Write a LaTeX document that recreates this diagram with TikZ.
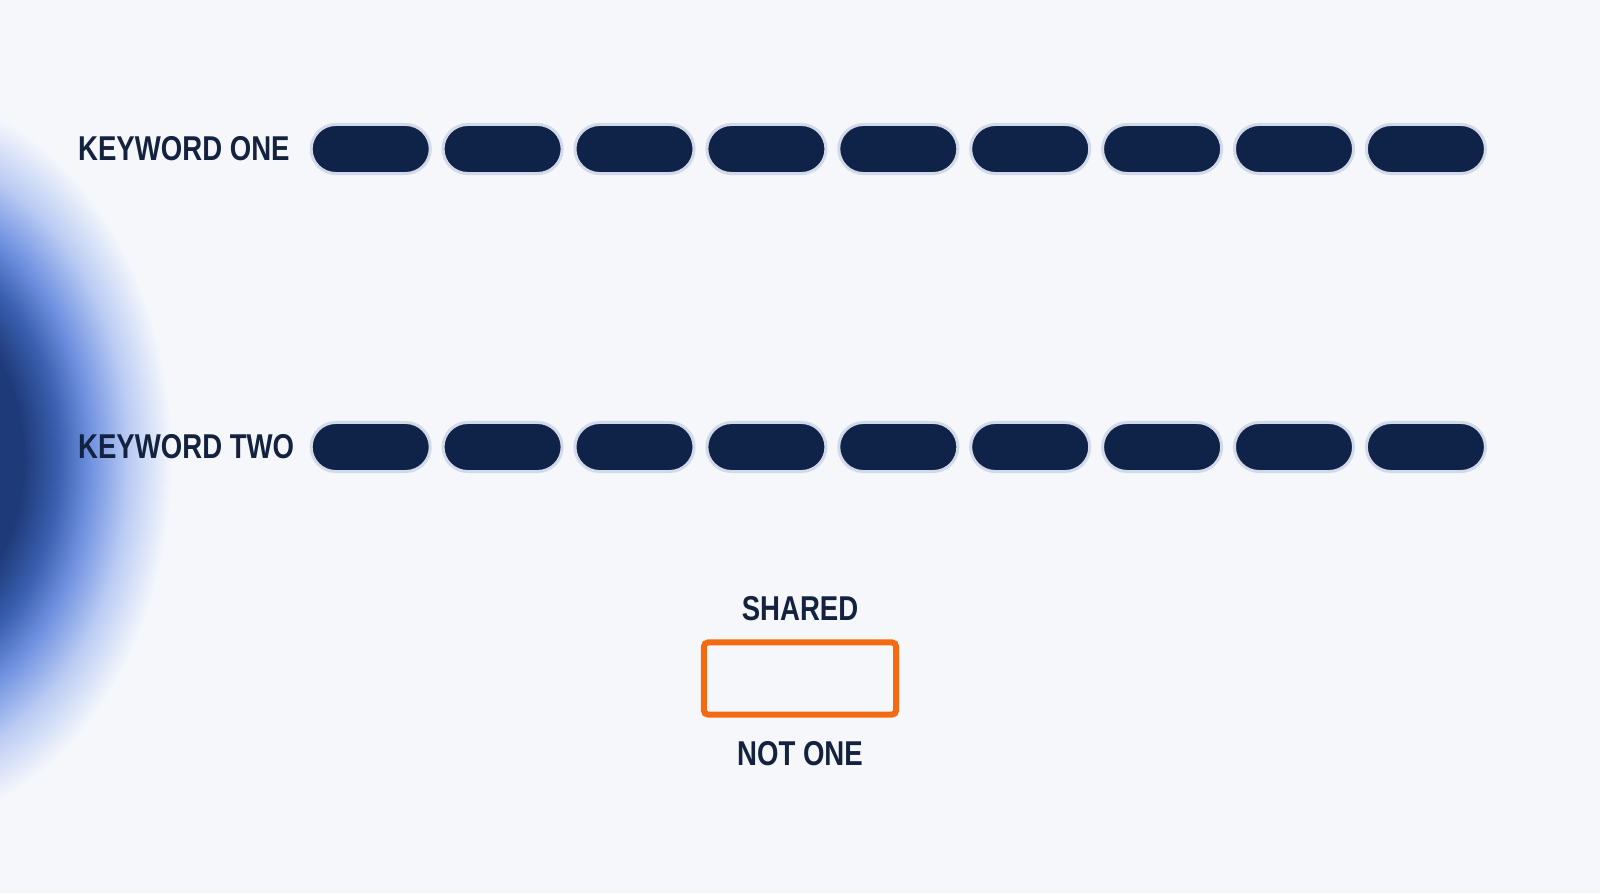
\documentclass[tikz,border=0pt]{standalone}
\usepackage{fontspec}
\setmainfont{Liberation Sans}[FakeStretch=0.80]
\usepackage{xcolor}
\usepackage{tikz}
\usetikzlibrary{calc, positioning}

\definecolor{bgc}{HTML}{F5F7FB}
\definecolor{navy}{HTML}{0F2349}
\definecolor{ink}{HTML}{13223F}
\definecolor{ringc}{HTML}{D2DAEA}
\definecolor{orangec}{HTML}{F26A12}
\definecolor{blobdark}{HTML}{1E3A78}
\definecolor{blobmid}{HTML}{3A5FAE}
\definecolor{bloblight}{HTML}{7192E0}
\definecolor{blobpale}{HTML}{BACBF3}

\pgfdeclareradialshading{blob}{\pgfpointorigin}{%
  color(0bp)=(blobdark); color(11.25bp)=(blobdark); color(14.5bp)=(blobmid);
  color(17.5bp)=(bloblight); color(21bp)=(blobpale); color(25bp)=(bgc);
  color(50bp)=(bgc)}

\tikzset{
  pill/.style={rectangle, rounded corners=0.245cm, fill=navy, draw=ringc,
    line width=0.03cm, minimum width=1.19cm, minimum height=0.49cm, inner sep=0pt},
  keyword/.style={anchor=west, text=ink, font=\bfseries\fontsize{9.8}{11}\selectfont, inner sep=0pt},
  sharebox/.style={rectangle, draw=orangec, line width=0.06cm, rounded corners=0.04cm,
    minimum width=1.92cm, minimum height=0.72cm, inner sep=0pt}
}

\begin{document}
\begin{tikzpicture}[x=0.01cm, y=0.01cm]
					\def\rowA{744};
					\def\rowB{446};
					\def\pitch{131.9};

					\useasboundingbox (0,0) rectangle (1600,893);
					\fill[bgc] (0,0) rectangle (1600,893);

					% blue glow on the left edge
					\begin{scope}
						\clip (0,0) rectangle (1600,893);
						\shade[shading=blob] (-370,68) rectangle (172,800);
					\end{scope}

					% keyword rows
					\node[keyword] (kwone) at (77.5,\rowA) {KEYWORD ONE};
					\node[keyword] (kwtwo) at (77.5,\rowB) {KEYWORD TWO};
					\foreach \i in {1,...,9} {
						\node[pill] (one\i) at ({370.7+(\i-1)*\pitch},\rowA) {};
						\node[pill] (two\i) at ({370.7+(\i-1)*\pitch},\rowB) {};
					}

					% shared slot
					\node[sharebox] (shared) at (800,214.5) {};
					\node[keyword, anchor=center] (sharedlbl) at (800,284) {SHARED};
					\node[keyword, anchor=center] (notone) at (800,139) {NOT ONE};
				\end{tikzpicture}
\end{document}
